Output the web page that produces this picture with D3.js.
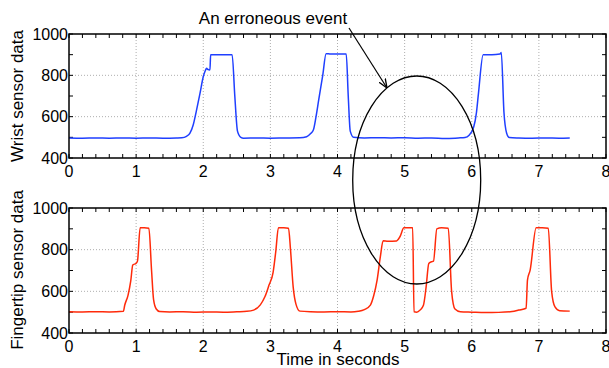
<!DOCTYPE html>
<html>
<head>
<meta charset="utf-8">
<script src="https://cdn.jsdelivr.net/npm/d3@7"></script>
<style>
  body { margin: 0; background: #fff; }
  svg { display: block; font-family: "Liberation Sans", Arial, sans-serif; }
</style>
</head>
<body>
<svg id="chart" width="609" height="368"></svg>
<script>
// wrist sensor readings [time s, value]
const wristData = [
  [0.00, 497], [0.20, 496], [0.40, 497], [0.60, 496], [0.80, 497], [1.00, 496], [1.20, 497],
  [1.40, 496], [1.60, 497], [1.68, 498], [1.75, 505], [1.80, 519], [1.85, 560], [1.90, 632],
  [1.95, 710], [2.00, 793], [2.03, 822], [2.05, 834], [2.07, 828], [2.10, 826], [2.11, 900],
  [2.20, 900], [2.30, 900], [2.43, 900], [2.47, 700], [2.51, 530], [2.56, 500], [2.60, 496],
  [2.80, 497], [3.00, 496], [3.20, 497], [3.44, 498], [3.54, 503], [3.60, 518], [3.64, 535],
  [3.68, 600], [3.72, 681], [3.78, 800], [3.83, 905], [3.90, 903], [4.00, 903], [4.13, 903],
  [4.16, 700], [4.19, 530], [4.24, 500], [4.40, 497], [4.60, 498], [4.80, 497], [5.00, 498],
  [5.20, 496], [5.40, 497], [5.60, 494], [5.80, 497], [5.90, 499], [5.96, 510], [6.03, 551],
  [6.07, 620], [6.10, 713], [6.17, 900], [6.30, 900], [6.42, 903], [6.44, 910], [6.48, 620],
  [6.52, 520], [6.56, 499], [6.70, 497], [6.90, 496], [7.10, 497], [7.30, 496], [7.46, 497]
];

// fingertip sensor readings [time s, value]
const fingerData = [
  [0.00, 502], [0.20, 501], [0.40, 502], [0.60, 501], [0.81, 504], [0.83, 533], [0.88, 582],
  [0.92, 650], [0.95, 726], [1.00, 735], [1.02, 745], [1.06, 905], [1.12, 905], [1.19, 903],
  [1.23, 700], [1.26, 560], [1.30, 515], [1.35, 503], [1.50, 501], [1.70, 502], [1.90, 500],
  [2.10, 501], [2.30, 500], [2.50, 502], [2.65, 504], [2.75, 510], [2.85, 535], [2.92, 575],
  [2.98, 630], [3.04, 690], [3.08, 790], [3.12, 905], [3.20, 905], [3.27, 903], [3.30, 800],
  [3.34, 620], [3.38, 540], [3.44, 505], [3.60, 502], [3.80, 501], [4.00, 502], [4.20, 501],
  [4.31, 504], [4.40, 512], [4.49, 534], [4.54, 580], [4.59, 654], [4.64, 770], [4.68, 843],
  [4.75, 840], [4.88, 842], [4.93, 862], [4.99, 905], [5.05, 905], [5.12, 905], [5.14, 502],
  [5.18, 500], [5.23, 510], [5.28, 533], [5.32, 620], [5.36, 734], [5.40, 742], [5.43, 745],
  [5.48, 900], [5.55, 905], [5.65, 903], [5.70, 600], [5.75, 515], [5.83, 502], [6.00, 500],
  [6.20, 498], [6.40, 499], [6.60, 503], [6.70, 510], [6.81, 519], [6.83, 654], [6.87, 702],
  [6.96, 905], [7.05, 905], [7.14, 903], [7.19, 600], [7.24, 525], [7.31, 507], [7.46, 505]
];

const xTicks = [0, 1, 2, 3, 4, 5, 6, 7, 8];
const yTicks = [400, 600, 800, 1000];
const yGrid = [600, 800];

const svg = d3.select("#chart");
const left = 69, right = 606;

const x = d3.scaleLinear().domain([0, 8]).range([left, right]);

const panels = [
  { data: wristData, top: 34, bottom: 158, color: "#1f3fff", label: "Wrist sensor data", labelY: 96 },
  { data: fingerData, top: 208, bottom: 333, color: "#ff2a0a", label: "Fingertip sensor data", labelY: 270 }
];

panels.forEach(p => {
  const y = d3.scaleLinear().domain([400, 1000]).range([p.bottom, p.top]);
  const g = svg.append("g");

  // dotted grid
  g.selectAll(".gx").data(xTicks.slice(1, -1)).join("line")
    .attr("x1", d => x(d)).attr("x2", d => x(d))
    .attr("y1", p.top).attr("y2", p.bottom)
    .attr("stroke", "#999").attr("stroke-width", 0.8).attr("stroke-dasharray", "1,2");
  g.selectAll(".gy").data(yGrid).join("line")
    .attr("x1", left).attr("x2", right)
    .attr("y1", d => y(d)).attr("y2", d => y(d))
    .attr("stroke", "#999").attr("stroke-width", 0.8).attr("stroke-dasharray", "1,2");

  // inward ticks on all four sides
  const minorX = d3.range(0, 8.001, 0.2);
  const minorY = d3.range(400, 1000.1, 100);
  g.selectAll(".tb").data(minorX).join("line")
    .attr("x1", d => x(d)).attr("x2", d => x(d))
    .attr("y1", p.bottom).attr("y2", p.bottom - 4)
    .attr("stroke", "#000").attr("stroke-width", 1);
  g.selectAll(".tt").data(minorX).join("line")
    .attr("x1", d => x(d)).attr("x2", d => x(d))
    .attr("y1", p.top).attr("y2", p.top + 4)
    .attr("stroke", "#000").attr("stroke-width", 1);
  g.selectAll(".tl").data(minorY).join("line")
    .attr("x1", left).attr("x2", left + 4)
    .attr("y1", d => y(d)).attr("y2", d => y(d))
    .attr("stroke", "#000").attr("stroke-width", 1);
  g.selectAll(".tr").data(minorY).join("line")
    .attr("x1", right).attr("x2", right - 4)
    .attr("y1", d => y(d)).attr("y2", d => y(d))
    .attr("stroke", "#000").attr("stroke-width", 1);

  // data line
  const line = d3.line().curve(d3.curveMonotoneX).x(d => x(d[0])).y(d => y(d[1]));
  g.append("path").datum(p.data)
    .attr("fill", "none").attr("stroke", p.color)
    .attr("stroke-width", 1.5).attr("stroke-linejoin", "round")
    .attr("d", line);

  // frame
  g.append("rect")
    .attr("x", left).attr("y", p.top)
    .attr("width", right - left).attr("height", p.bottom - p.top)
    .attr("fill", "none").attr("stroke", "#000").attr("stroke-width", 1.5);

  // tick labels
  g.selectAll(".xl").data(xTicks).join("text")
    .attr("x", d => x(d)).attr("y", p.bottom + 19)
    .attr("text-anchor", "middle").attr("font-size", 16)
    .text(d => d);
  g.selectAll(".yl").data(yTicks).join("text")
    .attr("x", left - 1).attr("y", d => y(d) + 5.7)
    .attr("text-anchor", "end").attr("font-size", 16)
    .text(d => d);

  // y label
  g.append("text")
    .attr("transform", `translate(23,${p.labelY}) rotate(-90)`)
    .attr("text-anchor", "middle").attr("font-size", 17)
    .text(p.label);
});

svg.append("text")
  .attr("x", 338).attr("y", 364.5)
  .attr("text-anchor", "middle").attr("font-size", 17)
  .text("Time in seconds");

// annotation
svg.append("defs").append("marker")
  .attr("id", "arrow").attr("viewBox", "0 0 10 10")
  .attr("refX", 10).attr("refY", 5)
  .attr("markerWidth", 9).attr("markerHeight", 9)
  .attr("markerUnits", "userSpaceOnUse")
  .attr("orient", "auto")
  .append("path").attr("d", "M0,1 L10,5 L0,9").attr("fill", "none")
  .attr("stroke", "#000").attr("stroke-width", 1.5);

svg.append("text")
  .attr("x", 273).attr("y", 24)
  .attr("text-anchor", "middle").attr("font-size", 17)
  .text("An erroneous event");

svg.append("line")
  .attr("x1", 349).attr("y1", 28).attr("x2", 387).attr("y2", 88)
  .attr("stroke", "#000").attr("stroke-width", 1.2)
  .attr("marker-end", "url(#arrow)");

svg.append("ellipse")
  .attr("cx", x(5.18)).attr("cy", 180)
  .attr("rx", 64).attr("ry", 104)
  .attr("fill", "none").attr("stroke", "#000").attr("stroke-width", 1.3);
</script>
</body>
</html>
